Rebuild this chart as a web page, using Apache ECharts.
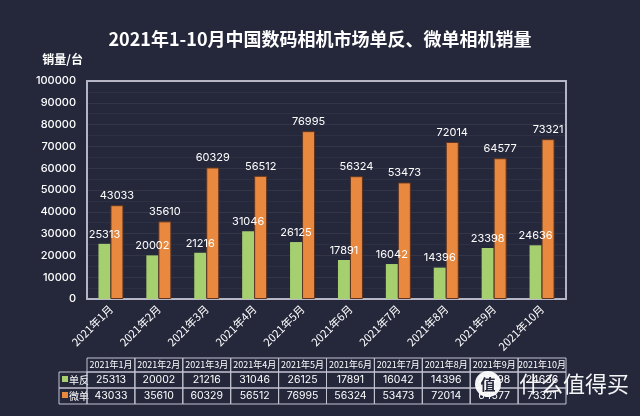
<!DOCTYPE html>
<html><head><meta charset="utf-8">
<script src="https://cdn.jsdelivr.net/npm/echarts@6/dist/echarts.min.js"></script>
<style>html,body{margin:0;padding:0;background:#25273b;}#c{width:640px;height:416px;}</style>
</head><body><div id="c"></div>
<script>
const categories = ['2021年1月','2021年2月','2021年3月','2021年4月','2021年5月','2021年6月','2021年7月','2021年8月','2021年9月','2021年10月'];
const seriesNames = ['单反','微单'];
const dslr = [25313,20002,21216,31046,26125,17891,16042,14396,23398,24636];
const mirrorless = [43033,35610,60329,56512,76995,56324,53473,72014,64577,73321];
const colors = ['#a6cf70','#e8893f'];

const chart = echarts.init(document.getElementById('c'), null, {renderer:'canvas'});
const G = {left:87, right:74, top:81, bottom:117};
const font = '"Noto Sans CJK SC", "Noto Sans", sans-serif';
const numFont = 'Inter, "Noto Sans CJK SC", sans-serif';

function buildTable(){
  const els = [];
  const x0 = G.left, w = (640 - G.left - G.right)/categories.length;
  const lx = 59;
  const rows = [358, 372, 388, 404];
  const line = '#c4c4d2';
  categories.forEach((c,i)=>{
    els.push({type:'rect', shape:{x:x0+i*w, y:rows[0], width:w, height:rows[1]-rows[0]}, style:{fill:'none', stroke:line, lineWidth:1}});
    els.push({type:'text', x:x0+i*w+w/2, y:(rows[0]+rows[1])/2, style:{text:c, fill:'#fff', font:'9px '+font, textAlign:'center', textVerticalAlign:'middle'}});
  });
  const data = [dslr, mirrorless];
  data.forEach((arr,r)=>{
    els.push({type:'rect', shape:{x:lx, y:rows[r+1], width:x0-lx, height:rows[r+2]-rows[r+1]}, style:{fill:'none', stroke:line, lineWidth:1}});
    els.push({type:'rect', shape:{x:lx+3, y:(rows[r+1]+rows[r+2])/2-4, width:6, height:6}, style:{fill:colors[r]}});
    els.push({type:'text', x:lx+10, y:(rows[r+1]+rows[r+2])/2, style:{text:seriesNames[r], fill:'#fff', font:'10px '+font, textAlign:'left', textVerticalAlign:'middle'}});
    arr.forEach((v,i)=>{
      els.push({type:'rect', shape:{x:x0+i*w, y:rows[r+1], width:w, height:rows[r+2]-rows[r+1]}, style:{fill:'none', stroke:line, lineWidth:1}});
      els.push({type:'text', x:x0+i*w+w/2, y:(rows[r+1]+rows[r+2])/2, style:{text:String(v), fill:'#fff', font:'10.5px '+numFont, textAlign:'center', textVerticalAlign:'middle'}});
    });
  });
  els.push({type:'circle', shape:{cx:488, cy:384, r:13}, style:{fill:'rgba(255,255,255,0.95)'}});
  els.push({type:'text', x:488, y:384, style:{text:'值', fill:'#25273b', font:'bold 15px '+font, textAlign:'center', textVerticalAlign:'middle'}});
  els.push({type:'text', x:519, y:384, style:{text:'什么值得买', fill:'rgba(255,255,255,0.95)', font:'22px '+font, textAlign:'left', textVerticalAlign:'middle'}});
  return els;
}

chart.setOption({
  backgroundColor:'#25273b',
  animation:false,
  title:{text:'2021年1-10月中国数码相机市场单反、微单相机销量', left:'center', top:25,
    textStyle:{color:'#fff', fontSize:18, fontWeight:'bold', fontFamily:font}},
  grid:{left:G.left, right:G.right, top:G.top, bottom:G.bottom, show:true, borderColor:'#b4b4c4', borderWidth:2, containLabel:false},
  xAxis:{type:'category', data:categories,
    axisLine:{show:false}, axisTick:{show:false},
    axisLabel:{color:'#fff', fontSize:11, rotate:45, margin:8, fontFamily:font}},
  yAxis:{type:'value', min:0, max:100000, interval:10000,
    name:'销量/台', nameLocation:'end', nameGap:16,
    nameTextStyle:{color:'#fff', fontSize:12, fontWeight:'bold', align:'right', padding:[0,4,0,0], fontFamily:font},
    axisLine:{show:false}, axisTick:{show:false},
    axisLabel:{color:'#fff', fontSize:11, fontWeight:500, margin:11, fontFamily:numFont, formatter:v=>String(v)},
    splitLine:{lineStyle:{color:'rgba(255,255,255,0.07)'}},
    minorTick:{show:false, splitNumber:2},
    minorSplitLine:{show:true, lineStyle:{color:'rgba(255,255,255,0.04)'}}},
  series:[
    {name:seriesNames[0], type:'bar', data:dslr, barWidth:12, barGap:'0%',
      itemStyle:{color:colors[0]},
      label:{show:true, position:'top', color:'#fff', fontSize:11, distance:4, fontFamily:numFont}},
    {name:seriesNames[1], type:'bar', data:mirrorless, barWidth:13, barGap:'0%',
      itemStyle:{color:colors[1], borderColor:'#5e3520', borderWidth:1},
      label:{show:true, position:'top', color:'#fff', fontSize:11, distance:4, fontFamily:numFont}}
  ],
  graphic: buildTable()
});
</script></body></html>
